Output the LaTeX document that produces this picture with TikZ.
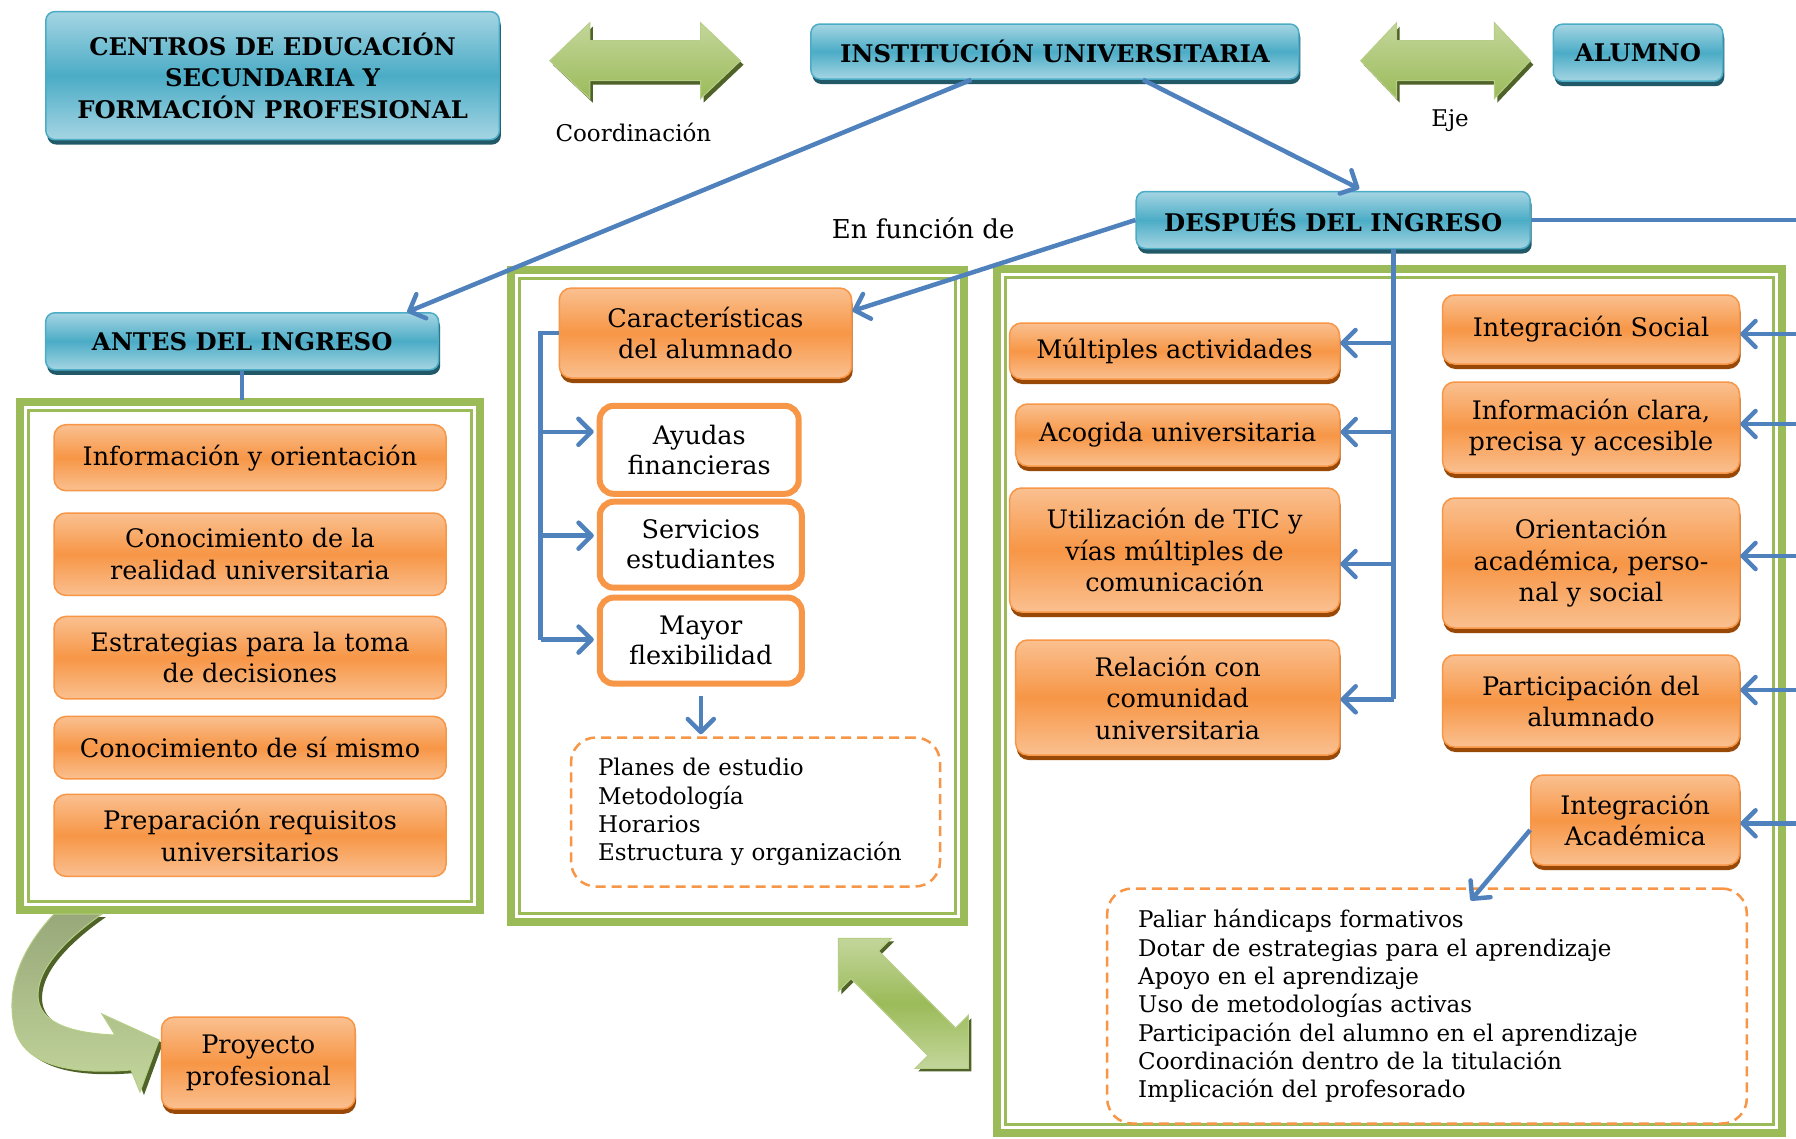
\documentclass[tikz,border=0pt]{standalone}
\usepackage{fontspec}
\setmainfont{DejaVu Serif}
\usetikzlibrary{arrows.meta,shadows,calc}
\definecolor{hdrlight}{HTML}{A5D5E3}
\definecolor{hdrmid}{HTML}{4BACC6}
\definecolor{hdrborder}{HTML}{4BACC6}
\definecolor{hdrshadow}{HTML}{215968}
\definecolor{orlight}{HTML}{FAC090}
\definecolor{ormid}{HTML}{F79646}
\definecolor{orshadow}{HTML}{984807}
\definecolor{frgreen}{HTML}{9BBB59}
\definecolor{arrblue}{HTML}{4F81BD}
\definecolor{glight}{HTML}{C3D69B}
\definecolor{gdark}{HTML}{4F6228}
\definecolor{cgray}{HTML}{98A87A}
\newcommand{\greenframe}[4]{%
  \draw[frgreen, line width=8pt] (#1+4,#2+4) rectangle (#3-4,#4-4);
  \draw[frgreen, line width=2.5pt] (#1+12.5,#2+12.5) rectangle (#3-12.5,#4-12.5);}
\newcommand{\hdarrow}[4]{%
  \fill[gdark, xshift=3pt, yshift=-4pt] (#1,#3) -- (#1+#4,#3-38) -- (#1+#4,#3-20) -- (#2-#4,#3-20) -- (#2-#4,#3-38) -- (#2,#3) -- (#2-#4,#3+38) -- (#2-#4,#3+20) -- (#1+#4,#3+20) -- (#1+#4,#3+38) -- cycle;
  \path[top color=glight, bottom color=frgreen, draw=glight!70!frgreen, line width=1pt] (#1,#3) -- (#1+#4,#3-38) -- (#1+#4,#3-20) -- (#2-#4,#3-20) -- (#2-#4,#3-38) -- (#2,#3) -- (#2-#4,#3+38) -- (#2-#4,#3+20) -- (#1+#4,#3+20) -- (#1+#4,#3+38) -- cycle;}
\begin{document}
\begin{tikzpicture}[x=1pt,y=-1pt,
  hdr/.style={rounded corners=9pt, draw=hdrborder, line width=1.5pt,
    top color=hdrlight, bottom color=hdrlight, middle color=hdrmid,
    drop shadow={shadow xshift=1.5pt, shadow yshift=-5pt, fill=hdrshadow, opacity=1},
    font=\bfseries\fontsize{24.3}{31.5}\selectfont, align=center, inner sep=0pt},
  orbox/.style={rounded corners=12pt, draw=ormid, line width=1.5pt,
    top color=orlight, bottom color=orlight, middle color=ormid,
    font=\fontsize{25.5}{31.5}\selectfont, align=center, inner sep=0pt},
  orshad/.style={orbox, drop shadow={shadow xshift=1pt, shadow yshift=-5pt, fill=orshadow, opacity=1}},
  whbox/.style={rounded corners=14pt, draw=ormid, line width=6pt, fill=white,
    font=\fontsize{25.5}{30}\selectfont, align=center, inner sep=0pt},
  dashbox/.style={rounded corners=25pt, draw=ormid, line width=2.5pt, dash pattern=on 10pt off 6pt,
    font=\fontsize{23}{28.3}\selectfont, align=left},
  lbl/.style={font=\fontsize{23}{28}\selectfont, inner sep=0pt},
  wire/.style={draw=arrblue, line width=4.5pt},
  conn/.style={wire, -{Straight Barb[length=13pt,width=26pt,round]}}
]
\useasboundingbox (0,0) rectangle (1796,1138);
\fill[white] (0,0) rectangle (1796,1138);

% frames
\greenframe{16}{398}{484}{914}
\greenframe{507}{266}{968}{926}
\greenframe{993}{265}{1786}{1137}

% green block arrows
\hdarrow{549.8}{740.5}{60.7}{40}
\hdarrow{1360.7}{1530.3}{60.7}{36}

\begin{scope}[shift={(906.3,1006.3)}, rotate=-45]
  \fill[gdark] (-91.9,0) -- (-54.4,37.5) -- (-54.4,19.5) -- (54.4,19.5) -- (54.4,37.5) -- (91.9,0) -- (54.4,-37.5) -- (54.4,-19.5) -- (-54.4,-19.5) -- (-54.4,-37.5) -- cycle;
\end{scope}
\begin{scope}[shift={(903.3,1003.3)}, rotate=-45]
  \path[top color=glight, bottom color=glight, middle color=frgreen, draw=glight!70!frgreen, line width=1pt] (-91.9,0) -- (-54.4,37.5) -- (-54.4,19.5) -- (54.4,19.5) -- (54.4,37.5) -- (91.9,0) -- (54.4,-37.5) -- (54.4,-19.5) -- (-54.4,-19.5) -- (-54.4,-37.5) -- cycle;
\end{scope}

% curved arrow
\fill[gdark, xshift=4pt, yshift=-3pt] (54,914) .. controls (20,950) and (5,990) .. (15,1030) .. controls (25,1065) and (70,1075) .. (131,1070) -- (140,1092) -- (159,1040) -- (102,1014) -- (115,1035) .. controls (65,1033) and (38,1020) .. (38,995) .. controls (38,965) and (72,935) .. (102,914) -- cycle;
\path[top color=cgray, bottom color=glight, draw=glight!70!frgreen, line width=1pt] (54,914) .. controls (20,950) and (5,990) .. (15,1030) .. controls (25,1065) and (70,1075) .. (131,1070) -- (140,1092) -- (159,1040) -- (102,1014) -- (115,1035) .. controls (65,1033) and (38,1020) .. (38,995) .. controls (38,965) and (72,935) .. (102,914) -- cycle;

% header boxes
\node[hdr, minimum width=453.6pt, minimum height=128pt] (centros) at (272.6,75.6) {CENTROS DE EDUCACIÓN\\SECUNDARIA Y\\FORMACIÓN PROFESIONAL};
\node[hdr, minimum width=488pt, minimum height=55pt] (inst) at (1054.9,51.5) {INSTITUCIÓN UNIVERSITARIA};
\node[hdr, minimum width=169.5pt, minimum height=57pt] (alumno) at (1638,52.7) {ALUMNO};
\node[hdr, minimum width=394pt, minimum height=57pt] (despues) at (1333.2,220) {DESPUÉS DEL INGRESO};
\node[hdr, minimum width=393pt, minimum height=57pt] (antes) at (242.2,341.3) {ANTES DEL INGRESO};

% labels
\node[lbl] (coord) at (633.4,132.9) {Coordinación};
\node[lbl] (eje) at (1450,120.3) {Eje};
\node[lbl, font=\fontsize{26}{30}\selectfont] (enfun) at (923.2,228) {En función de};

% left column
\node[orbox, minimum width=392pt, minimum height=66pt] (l1) at (250,457.7) {Información y orientación};
\node[orbox, minimum width=392pt, minimum height=82.4pt] (l2) at (250,554.2) {Conocimiento de la\\realidad universitaria};
\node[orbox, minimum width=392pt, minimum height=82.5pt] (l3) at (250,657.7) {Estrategias para la toma\\de decisiones};
\node[orbox, minimum width=392pt, minimum height=62.5pt] (l4) at (250,747.7) {Conocimiento de sí mismo};
\node[orbox, minimum width=392pt, minimum height=82pt] (l5) at (250,835.4) {Preparación requisitos\\universitarios};
\node[orshad, minimum width=193.6pt, minimum height=91.6pt] (proy) at (258.3,1063) {Proyecto\\profesional};

% middle column
\node[orshad, minimum width=292.4pt, minimum height=90pt] (caract) at (705.5,333) {Características\\del alumnado};
\node[whbox, minimum width=199pt, minimum height=88pt] (ayudas) at (699.2,449.8) {Ayudas\\financieras};
\node[whbox, minimum width=202pt, minimum height=86pt] (servicios) at (700.8,544.7) {Servicios\\estudiantes};
\node[whbox, minimum width=202pt, minimum height=86pt] (mayor) at (700.8,640.6) {Mayor\\flexibilidad};
\node[dashbox, minimum width=369pt, minimum height=149pt, text width=315pt, inner xsep=27pt, inner ysep=0pt] (plist) at (755.5,812) {Planes de estudio\\Metodología\\Horarios\\Estructura y organización};

% right area, left column
\node[orshad, minimum width=330pt, minimum height=56pt] (m1) at (1174.5,351) {Múltiples actividades};
\node[orshad, minimum width=324pt, minimum height=62pt] (m2) at (1177.7,435) {Acogida universitaria};
\node[orshad, minimum width=330pt, minimum height=124pt] (m3) at (1174.5,550) {Utilización de TIC y\\vías múltiples de\\comunicación};
\node[orshad, minimum width=324pt, minimum height=115pt] (m4) at (1177.7,697.5) {Relación con\\comunidad\\universitaria};

% right area, right column
\node[orshad, minimum width=297pt, minimum height=69pt] (r1) at (1591,329.5) {Integración Social};
\node[orshad, minimum width=297pt, minimum height=91pt] (r2) at (1591,427.5) {Información clara,\\precisa y accesible};
\node[orshad, minimum width=297pt, minimum height=130pt] (r3) at (1591,563) {Orientación\\académica, perso-\\nal y social};
\node[orshad, minimum width=297pt, minimum height=92pt] (r4) at (1591,701) {Participación del\\alumnado};
\node[orshad, minimum width=208.7pt, minimum height=90pt] (r5) at (1635.2,820) {Integración\\Académica};
\node[dashbox, minimum width=639.6pt, minimum height=235pt, text width=577.6pt, inner xsep=31pt, inner ysep=0pt] (ilist) at (1427,1006) {Paliar hándicaps formativos\\Dotar de estrategias para el aprendizaje\\Apoyo en el aprendizaje\\Uso de metodologías activas\\Participación del alumno en el aprendizaje\\Coordinación dentro de la titulación\\Implicación del profesorado};

% helper coordinates
\coordinate (lftop) at (0,400);
\coordinate (bx) at (540.7,0);
\coordinate (vx) at (1393.6,0);
\coordinate (vend) at (1393.6,699.3);
\coordinate (redge) at (1796,0);

% connectors
\draw[conn] ($(inst.south)+(-83.6,0)$) -- ($(antes.north)+(165,0)$);
\draw[conn] ($(inst.south)+(88,0)$) -- ($(despues.north)+(26,-2)$);
\draw[conn] (despues.west) -- ($(caract.east)+(0,-22)$);
\draw[wire] (despues.east) -- (despues.east -| redge);
\draw[wire] (antes.south) -- (antes.south |- lftop);

\draw[wire] (caract.west) -- (caract.west -| bx) -- ($(bx |- mayor.west)+(0,-1)$);
\draw[conn] ($(bx |- ayudas.west)+(0,-18)$) -- ($(ayudas.west)+(-3,-18)$);
\draw[conn] ($(bx |- servicios.west)+(0,-9)$) -- ($(servicios.west)+(-3,-9)$);
\draw[conn] ($(bx |- mayor.west)+(0,-1)$) -- ($(mayor.west)+(-3,-1)$);
\draw[conn] ($(mayor.south)+(0,9)$) -- ($(mayor.south |- plist.north)+(0,-2)$);

\draw[wire] (despues.south -| vx) -- (vend);
\draw[conn] ($(vx |- m1.east)+(0,-8)$) -- ($(m1.east)+(0,-8)$);
\draw[conn] ($(vx |- m2.east)+(0,-3)$) -- ($(m2.east)+(0,-3)$);
\draw[conn] ($(vx |- m3.east)+(0,14)$) -- ($(m3.east)+(0,14)$);
\draw[conn] (vend) -- (vend -| m4.east);

\draw[conn] ($(redge |- r1.east)+(0,4.5)$) -- ($(r1.east)+(0,4.5)$);
\draw[conn] ($(redge |- r2.east)+(0,-3.5)$) -- ($(r2.east)+(0,-3.5)$);
\draw[conn] ($(redge |- r3.east)+(0,-7)$) -- ($(r3.east)+(0,-7)$);
\draw[conn] ($(redge |- r4.east)+(0,-11)$) -- ($(r4.east)+(0,-11)$);
\draw[conn] ($(redge |- r5.east)+(0,3.3)$) -- ($(r5.east)+(0,3.3)$);
\draw[conn] ($(r5.west)+(0,10)$) -- ($(ilist.north)+(43.7,13.2)$);
\end{tikzpicture}
\end{document}
